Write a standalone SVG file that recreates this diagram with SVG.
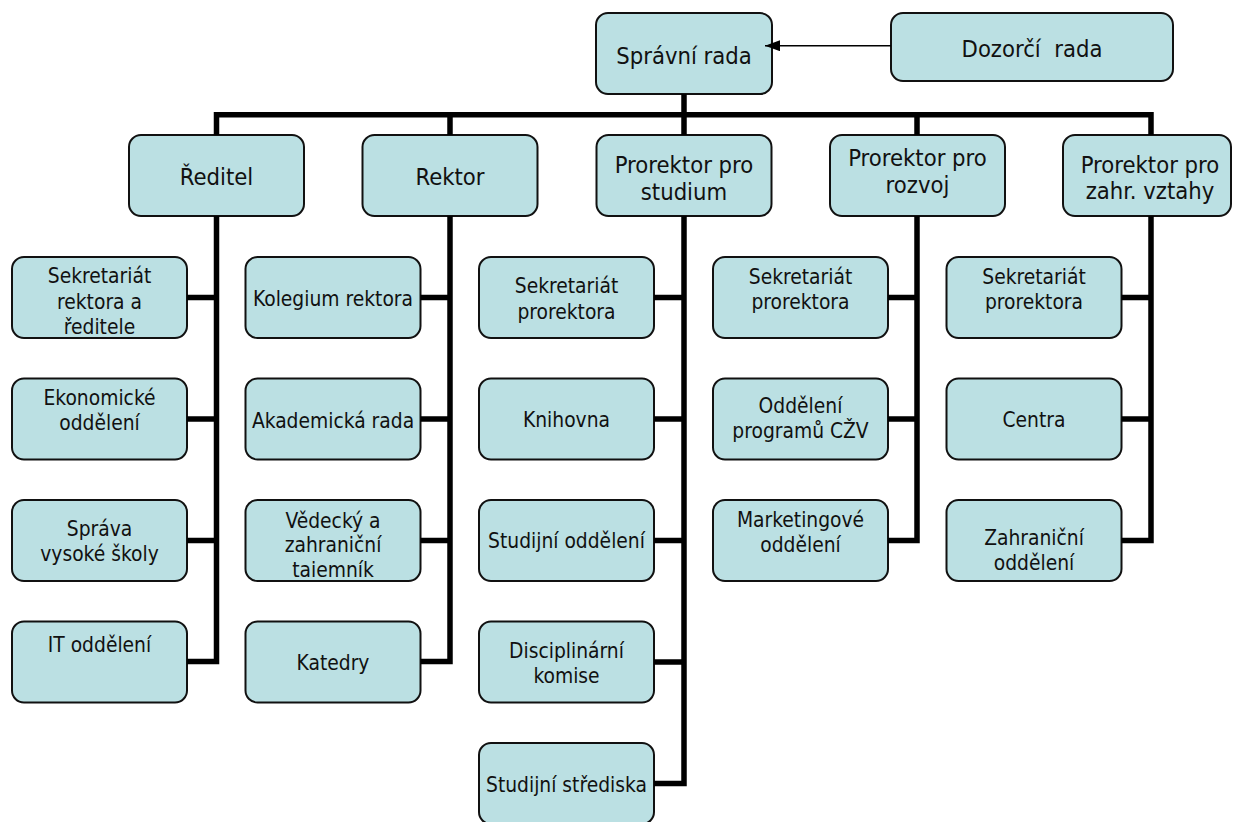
<svg xmlns="http://www.w3.org/2000/svg" width="1233" height="822" viewBox="0 0 1233 822">
<style>
.box{fill:#BBE0E3;stroke:#111;stroke-width:2}
.t{font-family:"DejaVu Sans Condensed","DejaVu Sans",sans-serif;font-stretch:condensed;fill:#111;text-anchor:middle}
.top{font-size:23.6px}
.ch{font-size:20.8px}
.bar{fill:none;stroke:#000;stroke-width:5.5;stroke-linejoin:miter;stroke-linecap:butt}
.thin{fill:none;stroke:#000;stroke-width:1.5}
</style>
<defs>
<marker id="ah" markerUnits="userSpaceOnUse" markerWidth="16" markerHeight="12" refX="15" refY="5.5" orient="auto">
<path d="M0,0 L15,5.5 L0,11 z" fill="#000"/>
</marker>
<clipPath id="c1"><rect x="12" y="257" width="175" height="77"/></clipPath>
<clipPath id="c2"><rect x="245.5" y="500" width="175" height="77"/></clipPath>
</defs>

<g id="spravni-rada"><rect class="box" x="596" y="13" width="176" height="81" rx="12"/><text class="t top" x="684" y="64">Správní rada</text></g>
<g id="dozorci-rada"><rect class="box" x="891" y="13" width="282" height="68" rx="12"/><text class="t top" x="1032" y="57" xml:space="preserve">Dozorčí  rada</text></g>

<g id="reditel"><rect class="box" x="129" y="135" width="175" height="81" rx="12"/><text class="t top" x="216.5" y="185">Ředitel</text></g>
<g id="rektor"><rect class="box" x="362.5" y="135" width="175" height="81" rx="12"/><text class="t top" x="450" y="185">Rektor</text></g>
<g id="prorektor-studium"><rect class="box" x="596.5" y="135" width="175" height="81" rx="12"/><text class="t top" x="684" y="173">Prorektor pro</text><text class="t top" x="684" y="200">studium</text></g>
<g id="prorektor-rozvoj"><rect class="box" x="830" y="135" width="175" height="81" rx="12"/><text class="t top" x="917.5" y="166">Prorektor pro</text><text class="t top" x="917.5" y="193">rozvoj</text></g>
<g id="prorektor-zahr"><rect class="box" x="1063" y="135" width="168" height="81" rx="12"/><text class="t top" x="1150" y="173">Prorektor pro</text><text class="t top" x="1150" y="199">zahr. vztahy</text></g>

<g id="sekretariat-rektora"><rect class="box" x="12" y="257" width="175" height="81" rx="12"/><g clip-path="url(#c1)"><text class="t ch" x="99.5" y="283">Sekretariát</text><text class="t ch" x="99.5" y="308.5">rektora a</text><text class="t ch" x="99.5" y="334">ředitele</text></g></g>
<g id="ekonomicke"><rect class="box" x="12" y="378.5" width="175" height="81" rx="12"/><text class="t ch" x="99.5" y="405">Ekonomické</text><text class="t ch" x="99.5" y="429.5">oddělení</text></g>
<g id="sprava"><rect class="box" x="12" y="500" width="175" height="81" rx="12"/><text class="t ch" x="99.5" y="536">Správa</text><text class="t ch" x="99.5" y="561">vysoké školy</text></g>
<g id="it"><rect class="box" x="12" y="621.5" width="175" height="81" rx="12"/><text class="t ch" x="99.5" y="652">IT oddělení</text></g>

<g id="kolegium"><rect class="box" x="245.5" y="257" width="175" height="81" rx="12"/><text class="t ch" x="333" y="305.5">Kolegium rektora</text></g>
<g id="akademicka"><rect class="box" x="245.5" y="378.5" width="175" height="81" rx="12"/><text class="t ch" x="333" y="427.5">Akademická rada</text></g>
<g id="vedecky"><rect class="box" x="245.5" y="500" width="175" height="81" rx="12"/><g clip-path="url(#c2)"><text class="t ch" x="333" y="527.5">Vědecký a</text><text class="t ch" x="333" y="552">zahraniční</text><text class="t ch" x="333" y="576.5">tajemník</text></g></g>
<g id="katedry"><rect class="box" x="245.5" y="621.5" width="175" height="81" rx="12"/><text class="t ch" x="333" y="670">Katedry</text></g>

<g id="sekretariat-studium"><rect class="box" x="479" y="257" width="175" height="81" rx="12"/><text class="t ch" x="566.5" y="293">Sekretariát</text><text class="t ch" x="566.5" y="318.5">prorektora</text></g>
<g id="knihovna"><rect class="box" x="479" y="378.5" width="175" height="81" rx="12"/><text class="t ch" x="566.5" y="427">Knihovna</text></g>
<g id="studijni-oddeleni"><rect class="box" x="479" y="500" width="175" height="81" rx="12"/><text class="t ch" x="566.5" y="548">Studijní oddělení</text></g>
<g id="disciplinarni"><rect class="box" x="479" y="621.5" width="175" height="81" rx="12"/><text class="t ch" x="566.5" y="658">Disciplinární</text><text class="t ch" x="566.5" y="683">komise</text></g>
<g id="strediska"><rect class="box" x="479" y="743" width="175" height="81" rx="12"/><text class="t ch" x="566.5" y="791.5">Studijní střediska</text></g>

<g id="sekretariat-rozvoj"><rect class="box" x="713" y="257" width="175" height="81" rx="12"/><text class="t ch" x="800.5" y="283.5">Sekretariát</text><text class="t ch" x="800.5" y="309">prorektora</text></g>
<g id="oddeleni-czv"><rect class="box" x="713" y="378.5" width="175" height="81" rx="12"/><text class="t ch" x="800.5" y="412.5">Oddělení</text><text class="t ch" x="800.5" y="438">programů CŽV</text></g>
<g id="marketingove"><rect class="box" x="713" y="500" width="175" height="81" rx="12"/><text class="t ch" x="800.5" y="526.5">Marketingové</text><text class="t ch" x="800.5" y="551.5">oddělení</text></g>

<g id="sekretariat-zahr"><rect class="box" x="946.5" y="257" width="175" height="81" rx="12"/><text class="t ch" x="1034" y="283.5">Sekretariát</text><text class="t ch" x="1034" y="309">prorektora</text></g>
<g id="centra"><rect class="box" x="946.5" y="378.5" width="175" height="81" rx="12"/><text class="t ch" x="1034" y="427">Centra</text></g>
<g id="zahranicni"><rect class="box" x="946.5" y="500" width="175" height="81" rx="12"/><text class="t ch" x="1034" y="545">Zahraniční</text><text class="t ch" x="1034" y="570">oddělení</text></g>

<g id="connectors">
<path class="thin" d="M891,45.7 H765" marker-end="url(#ah)"/>
<path class="bar" d="M684,94 V115"/>
<path class="bar" d="M216.5,135 V114.7 H1151 V135"/>
<path class="bar" d="M450,115 V135 M684,115 V135 M917,115 V135"/>
<path class="bar" d="M216.5,216 V661.5 H187 M187,297.5 H216.5 M187,419 H216.5 M187,540.5 H216.5"/>
<path class="bar" d="M450,216 V661.5 H420.5 M420.5,297.5 H450 M420.5,419 H450 M420.5,540.5 H450"/>
<path class="bar" d="M684,216 V783.5 H654 M654,297.5 H684 M654,419 H684 M654,540.5 H684 M654,662 H684"/>
<path class="bar" d="M917,216 V540.5 H888 M888,297.5 H917 M888,419 H917"/>
<path class="bar" d="M1151,216 V540.5 H1121.5 M1121.5,297.5 H1151 M1121.5,419 H1151"/>
</g>
</svg>
